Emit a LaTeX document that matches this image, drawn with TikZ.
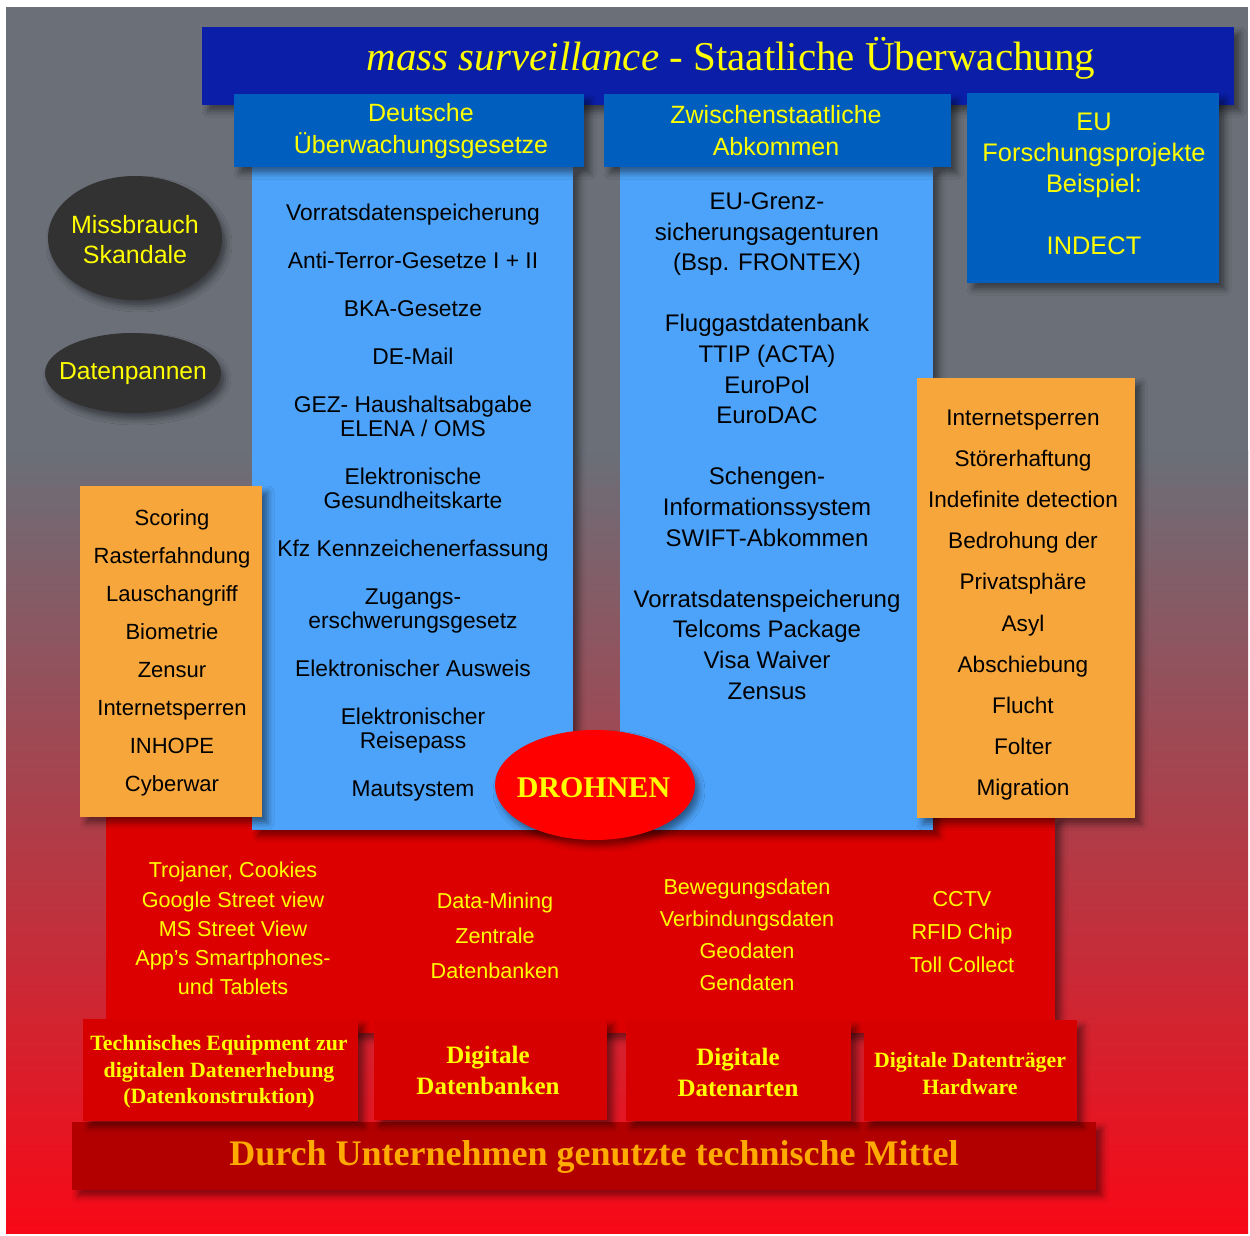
\documentclass[tikz,border=0pt]{standalone}
\usepackage{fontspec}
\setmainfont{Liberation Serif}
\setsansfont{Liberation Sans}
\usetikzlibrary{shapes.geometric,shadows.blur}

\definecolor{bggray}{RGB}{106,111,120}
\definecolor{bgmauve}{RGB}{150,72,84}
\definecolor{bgred}{RGB}{248,8,22}
\definecolor{titleblue}{RGB}{10,30,168}
\definecolor{headblue}{RGB}{0,94,190}
\definecolor{lightblue}{RGB}{77,163,250}
\definecolor{boxorange}{RGB}{247,166,60}
\definecolor{darkoval}{RGB}{50,50,50}
\definecolor{areared}{RGB}{221,0,0}
\definecolor{boxred}{RGB}{215,0,0}
\definecolor{barred}{RGB}{178,0,0}
\definecolor{drohnenred}{RGB}{255,0,0}
\definecolor{txtyellow}{RGB}{255,255,0}
\definecolor{txtorange}{RGB}{255,170,0}

\tikzset{
  panel/.style={rectangle,inner sep=0pt,
    blur shadow={shadow xshift=3pt,shadow yshift=-3pt,shadow blur radius=3pt,shadow opacity=45}},
  oval/.style={ellipse,inner sep=0pt,fill=darkoval,
    blur shadow={shadow xshift=2pt,shadow yshift=-3pt,shadow blur radius=3pt,shadow opacity=45}},
  yellowtxt/.style={text=txtyellow,align=center,inner sep=0pt},
  blacktxt/.style={text=black,align=center,inner sep=0pt},
}

\begin{document}
\begin{tikzpicture}[x=.5pt,y=-.5pt]
  \useasboundingbox (0,0) rectangle (1250,1236);
  \fill[white] (0,0) rectangle (1250,1236);
  \fill[bggray] (6,7) rectangle (1248,452);
  \shade[top color=bggray,middle color=bgmauve,bottom color=bgred] (6,450) rectangle (1248,1233);

  \node[panel,fill=titleblue,minimum width=516pt,minimum height=39pt] (title) at (718,66) {};
  \node[panel,fill=areared,minimum width=474.5pt,minimum height=108.5pt] (area) at (580.5,924.5) {};

  \node[panel,fill=lightblue,minimum width=160.5pt,minimum height=331.5pt] (colDE) at (412.5,498.5) {};
  \node[panel,fill=lightblue,minimum width=156.5pt,minimum height=331.5pt] (colZW) at (776.5,498.5) {};

  \node[panel,fill=headblue,minimum width=175pt,minimum height=36.5pt] (headDE) at (409,130.5) {};
  \node[panel,fill=headblue,minimum width=173.5pt,minimum height=36.5pt] (headZW) at (777.5,130.5) {};
  \node[panel,fill=headblue,minimum width=126pt,minimum height=95pt] (headEU) at (1093,188) {};

  \node[panel,fill=boxorange,minimum width=91pt,minimum height=165.5pt] (sideL) at (171,651.5) {};
  \node[panel,fill=boxorange,minimum width=109pt,minimum height=220pt] (sideR) at (1026,598) {};

  \node[oval,minimum width=87pt,minimum height=62pt] (ovalMS) at (135,238) {};
  \node[oval,minimum width=88pt,minimum height=40pt] (ovalDP) at (133,373) {};

  \node[ellipse,inner sep=0pt,fill=drohnenred,minimum width=100pt,minimum height=55pt,
    blur shadow={shadow xshift=2pt,shadow yshift=-3pt,shadow blur radius=3pt,shadow opacity=45}] (drohnen) at (595,785) {};

  \node[panel,fill=barred,minimum width=512pt,minimum height=34pt] (bar) at (584,1156) {};
  \node[panel,fill=boxred,minimum width=137.5pt,minimum height=51pt] (tech1) at (220.5,1070) {};
  \node[panel,fill=boxred,minimum width=116.5pt,minimum height=50.5pt] (tech2) at (490.5,1069.5) {};
  \node[panel,fill=boxred,minimum width=112.5pt,minimum height=50.5pt] (tech3) at (738.5,1070.5) {};
  \node[panel,fill=boxred,minimum width=106.5pt,minimum height=50.5pt] (tech4) at (970.5,1070.5) {};

  \node[yellowtxt,font=\fontsize{20.5}{24}\selectfont] (titletxt) at (731,58)
    {\textit{mass surveillance} - Staatliche Überwachung};

  \node[yellowtxt,font=\sffamily\fontsize{12.5}{16}\selectfont] (headDEtxt) at (421,131)
    {Deutsche\\Überwachungsgesetze};
  \node[yellowtxt,font=\sffamily\fontsize{12.5}{16}\selectfont] (headZWtxt) at (776,131)
    {Zwischenstaatliche\\Abkommen};
  \node[yellowtxt,font=\sffamily\fontsize{12.7}{15.5}\selectfont] (headEUtxt) at (1094,184)
    {EU\\Forschungsprojekte\\Beispiel:\\[15.5pt]INDECT};

  \node[blacktxt,font=\sffamily\fontsize{11.4}{12}\selectfont] (lawsDE) at (413,502.5)
    {Vorratsdatenspeicherung\\[12pt]Anti-Terror-Gesetze I + II\\[12pt]BKA-Gesetze\\[12pt]DE-Mail\\[12pt]%
     GEZ- Haushaltsabgabe\\ELENA / OMS\\[12pt]Elektronische\\Gesundheitskarte\\[12pt]%
     Kfz Kennzeichenerfassung\\[12pt]Zugangs-\\erschwerungsgesetz\\[12pt]Elektronischer Ausweis\\[12pt]%
     Elektronischer\\Reisepass\\[12pt]Mautsystem};

  \node[blacktxt,font=\sffamily\fontsize{12}{15.3}\selectfont] (lawsZW) at (767,446)
    {EU-Grenz-\\sicherungsagenturen\\(Bsp. FRONTEX)\\[15.3pt]%
     Fluggastdatenbank\\TTIP (ACTA)\\EuroPol\\EuroDAC\\[15.3pt]%
     Schengen-\\Informationssystem\\SWIFT-Abkommen\\[15.3pt]%
     Vorratsdatenspeicherung\\Telcoms Package\\Visa Waiver\\Zensus};

  \node[blacktxt,font=\sffamily\fontsize{11}{19}\selectfont] (sideLtxt) at (172,652.5)
    {Scoring\\Rasterfahndung\\Lauschangriff\\Biometrie\\Zensur\\Internetsperren\\INHOPE\\Cyberwar};
  \node[blacktxt,font=\sffamily\fontsize{11.3}{20.6}\selectfont] (sideRtxt) at (1023,605)
    {Internetsperren\\Störerhaftung\\Indefinite detection\\Bedrohung der\\Privatsphäre\\Asyl\\Abschiebung\\Flucht\\Folter\\Migration};

  \node[yellowtxt,font=\sffamily\fontsize{12.5}{15}\selectfont] (ovalMStxt) at (135,240) {Missbrauch\\Skandale};
  \node[yellowtxt,font=\sffamily\fontsize{12.3}{15}\selectfont] (ovalDPtxt) at (133,374) {Datenpannen};

  \node[yellowtxt,font=\bfseries\fontsize{15}{18}\selectfont] (drohnentxt) at (593.5,788) {DROHNEN};

  \node[yellowtxt,font=\sffamily\fontsize{10.8}{14.6}\selectfont] (areaA) at (233,928.5)
    {Trojaner, Cookies\\Google Street view\\MS Street View\\App’s Smartphones-\\und Tablets};
  \node[yellowtxt,font=\sffamily\fontsize{10.8}{17.5}\selectfont] (areaB) at (495,936)
    {Data-Mining\\Zentrale\\Datenbanken};
  \node[yellowtxt,font=\sffamily\fontsize{10.8}{16}\selectfont] (areaC) at (747,935)
    {Bewegungsdaten\\Verbindungsdaten\\Geodaten\\Gendaten};
  \node[yellowtxt,font=\sffamily\fontsize{10.8}{16.5}\selectfont] (areaD) at (962,932)
    {CCTV\\RFID Chip\\Toll Collect};

  \node[yellowtxt,font=\bfseries\fontsize{10.9}{13.25}\selectfont] (tech1txt) at (219,1072)
    {Technisches Equipment zur\\digitalen Datenerhebung\\(Datenkonstruktion)};
  \node[yellowtxt,font=\bfseries\fontsize{12.5}{15.5}\selectfont] (tech2txt) at (488,1070)
    {Digitale\\Datenbanken};
  \node[yellowtxt,font=\bfseries\fontsize{12.5}{15.5}\selectfont] (tech3txt) at (738,1072)
    {Digitale\\Datenarten};
  \node[yellowtxt,font=\bfseries\fontsize{10.9}{13.5}\selectfont] (tech4txt) at (970,1074)
    {Digitale Datenträger\\Hardware};

  \node[text=txtorange,inner sep=0pt,font=\bfseries\fontsize{18}{22}\selectfont] (bartxt) at (594,1157)
    {Durch Unternehmen genutzte technische Mittel};
\end{tikzpicture}
\end{document}
